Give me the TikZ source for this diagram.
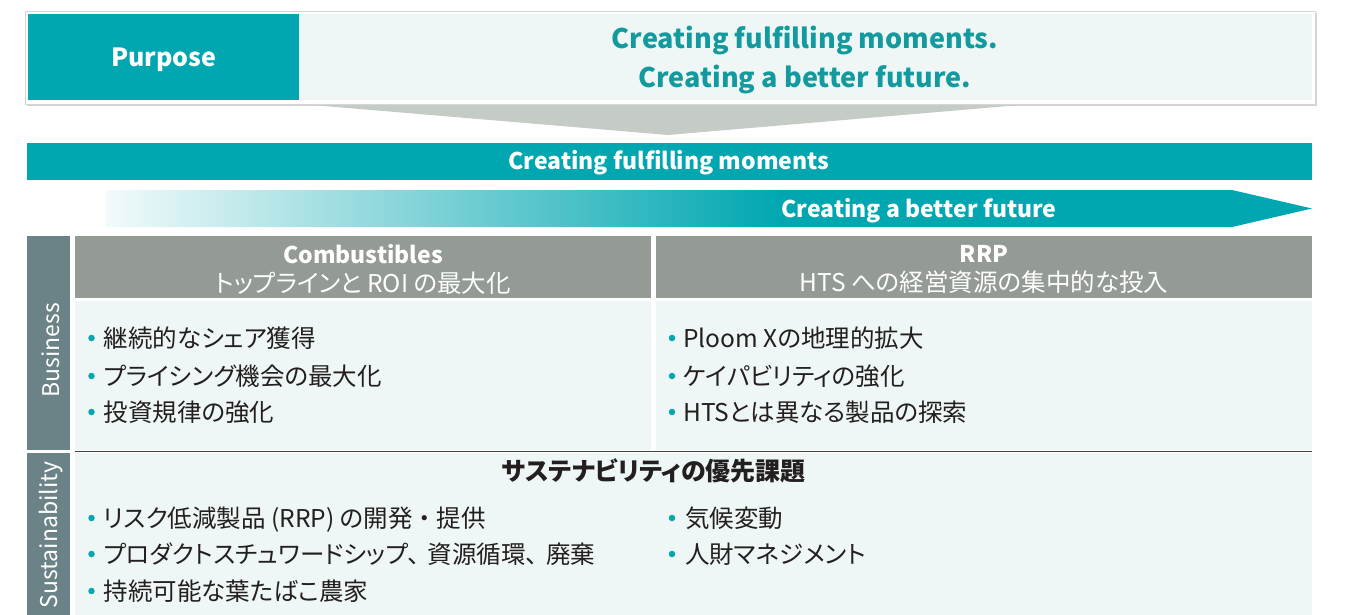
\documentclass[tikz,border=0pt]{standalone}
\usepackage{fontspec}
\setmainfont{Noto Sans CJK JP}[RawFeature={+palt}]
\usetikzlibrary{shadows}
\definecolor{jtteal}{HTML}{00A7B1}
\definecolor{jtdark}{HTML}{139A9E}
\definecolor{hdrgray}{HTML}{939B94}
\definecolor{sidegray}{HTML}{6B8386}
\definecolor{lightbg}{HTML}{EFF7F6}
\definecolor{funnelc}{HTML}{C5CCC6}
\definecolor{bordc}{HTML}{D3D8D6}
\definecolor{txt}{HTML}{231F20}
\definecolor{fadec}{HTML}{F2FAFA}
\pgfdeclarehorizontalshading{futureshade}{100bp}{color(0bp)=(fadec); color(25bp)=(fadec); color(53bp)=(jtteal); color(100bp)=(jtteal)}
\tikzset{
  cell/.style={anchor=north west, inner sep=0pt, outer sep=0pt},
  dot/.style={circle, fill=jtteal, inner sep=0pt, minimum size=6.5pt},
  item/.style={anchor=base west, inner sep=0pt, text=txt, font=\fontsize{24.5}{28}\selectfont},
  side/.style={rotate=90, text=white, font=\fontsize{23}{26}\selectfont},
}
\begin{document}
\begin{tikzpicture}[x=1pt,y=-1pt]
\useasboundingbox (0,0) rectangle (1347,614);
% top box
\path[fill=white, draw=bordc, line width=0.8pt, drop shadow={shadow xshift=2pt, shadow yshift=-2pt, opacity=0.35}] (25,11) rectangle (1315,104);
\node[cell, fill=jtteal, minimum width=271pt, minimum height=86pt] (purpose) at (28,14) {};
\node[text=white, font=\bfseries\fontsize{25}{28}\selectfont] (purposetxt) at ([yshift=-3pt]purpose.center) {Purpose};
\node[cell, fill=lightbg, minimum width=1013pt, minimum height=86pt] (motto) at (299,14) {};
\node[text=jtdark, font=\bfseries\fontsize{27}{39}\selectfont, align=center] (mottotext) at (805,60) {Creating fulfilling moments.\\Creating a better future.};
% funnel
\fill[funnelc] (312,105) -- (1020,105) -- (668,135) -- cycle;
% band
\node[cell, fill=jtteal, minimum width=1285pt, minimum height=37pt] (band) at (27,143) {};
\node[text=white, font=\bfseries\fontsize{23}{26}\selectfont] (bandtxt) at (669,163) {Creating fulfilling moments};
% arrow
\shade[shading=futureshade] (106,190) -- (1232,190) -- (1312,208.5) -- (1232,227) -- (106,227) -- cycle;
\node[text=white, font=\bfseries\fontsize{23}{26}\selectfont] (future) at (919,210.5) {Creating a better future};
% side labels
\node[cell, fill=sidegray, minimum width=43pt, minimum height=214pt] (bizcell) at (27,236) {};
\node[cell, fill=sidegray, minimum width=43pt, minimum height=162pt] (suscell) at (27,453) {};
\node[side] (bizlab) at (51,350) {Business};
\node[side] (suslab) at (51,535) {Sustainability};
% headers
\node[cell, fill=hdrgray, minimum width=576pt, minimum height=62pt] (combhdr) at (75,236) {};
\node[cell, fill=hdrgray, minimum width=656pt, minimum height=62pt] (rrphdr) at (656,236) {};
\node[text=white, align=center, font=\fontsize{24.5}{29}\selectfont] (combtxt) at ([yshift=-2pt]combhdr.center) {{\fontsize{23}{29}\selectfont\bfseries Combustibles}\\トップラインと ROI の最大化};
\node[text=white, align=center, font=\fontsize{24.5}{29}\selectfont] (rrptxt) at ([yshift=-2pt]rrphdr.center) {{\fontsize{23}{29}\selectfont\bfseries RRP}\\HTS への経営資源の集中的な投入};
% bodies
\node[cell, fill=lightbg, minimum width=576pt, minimum height=149pt] (combbody) at (75,301) {};
\node[cell, fill=lightbg, minimum width=656pt, minimum height=149pt] (rrpbody) at (656,301) {};
\node[cell, fill=lightbg, minimum width=1237pt, minimum height=162pt] (susbody) at (75,453) {};
\draw[txt!85, line width=1.2pt] ([yshift=-1.5pt]combbody.south west) -- ([yshift=-1.5pt]rrpbody.south east);
% business items
\node[dot] (b1) at (91.5,338) {};
\node[item] (t1) at (103.5,347) {継続的なシェア獲得};
\node[dot] (b2) at (91.5,376) {};
\node[item] (t2) at (103.5,385) {プライシング機会の最大化};
\node[dot] (b3) at (91.5,412) {};
\node[item] (t3) at (103.5,421) {投資規律の強化};
\node[dot] (b4) at (672,338) {};
\node[item] (t4) at (683,347) {Ploom Xの地理的拡大};
\node[dot] (b5) at (672,376) {};
\node[item] (t5) at (683,385) {ケイパビリティの強化};
\node[dot] (b6) at (672,412) {};
\node[item] (t6) at (683,421) {HTSとは異なる製品の探索};
% sustainability
\node[text=txt, font=\bfseries\fontsize{25}{28}\selectfont] (sustitle) at (654,471) {サステナビリティの優先課題};
\node[dot] (s1) at (91.5,518) {};
\node[item] (u1) at (103.5,527) {リスク低減製品 (RRP) の開発\hspace{6pt}・\hspace{6pt}提供};
\node[dot] (s2) at (91.5,554) {};
\node[item] (u2) at (103.5,563) {プロダクトスチュワードシップ、\hspace{8pt}資源循環、\hspace{8pt}廃棄};
\node[dot] (s3) at (91.5,591) {};
\node[item] (u3) at (103.5,600) {持続可能な葉たばこ農家};
\node[dot] (s4) at (672,518) {};
\node[item] (u4) at (685,527) {気候変動};
\node[dot] (s5) at (672,554) {};
\node[item] (u5) at (685,563) {人財マネジメント};
\end{tikzpicture}
\end{document}
